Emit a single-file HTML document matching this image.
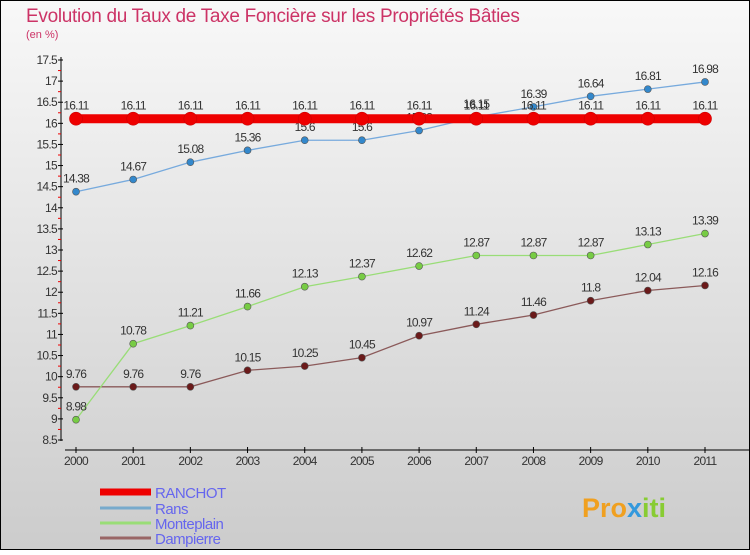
<!DOCTYPE html>
<html><head><meta charset="utf-8"><style>
body{margin:0}
#c{width:750px;height:550px;position:relative;font-family:"Liberation Sans",sans-serif;}
</style></head><body>
<div id="c">
<svg id="s" width="750" height="550" xmlns="http://www.w3.org/2000/svg">
<defs><linearGradient id="bg" x1="0" y1="0" x2="0" y2="1"><stop offset="0" stop-color="#f8f8f8"/><stop offset="1" stop-color="#cccccc"/></linearGradient></defs>
<rect x="0.5" y="0.5" width="749" height="549" fill="url(#bg)" stroke="#000"/>
<text x="26" y="22" font-size="19" fill="#cc3366" letter-spacing="-0.3">Evolution du Taux de Taxe Foncière sur les Propriétés Bâties</text>
<text x="26" y="38" font-size="11" fill="#cc3366">(en %)</text>
<g id="g"></g>
<g>
<text x="582" y="517" font-size="27" font-weight="bold" fill="#f0a020">Pro<tspan fill="#3399dd">x</tspan><tspan fill="#88cc33">iti</tspan></text>
</g>
</svg>
</div>
<script>
const years=["2000","2001","2002","2003","2004","2005","2006","2007","2008","2009","2010","2011"];
const ranchot=[16.11,16.11,16.11,16.11,16.11,16.11,16.11,16.11,16.11,16.11,16.11,16.11];
const rans=[14.38,14.67,15.08,15.36,15.6,15.6,15.83,16.15,16.39,16.64,16.81,16.98];
const monteplain=[8.98,10.78,11.21,11.66,12.13,12.37,12.62,12.87,12.87,12.87,13.13,13.39];
const dampierre=[9.76,9.76,9.76,10.15,10.25,10.45,10.97,11.24,11.46,11.8,12.04,12.16];
const yTicks=[8.5,9,9.5,10,10.5,11,11.5,12,12.5,13,13.5,14,14.5,15,15.5,16,16.5,17,17.5];
const NS="http://www.w3.org/2000/svg";
const g=document.getElementById('g');
const x=i=>76+i*(705-76)/11;
const y=v=>440-(v-8.5)*(380/9);
function mk(t,a){const e=document.createElementNS(NS,t);for(const k in a)e.setAttribute(k,a[k]);g.appendChild(e);return e;}
let e=mk('line',{x1:61,y1:57,x2:61,y2:441,stroke:'#000'});


e=mk('line',{x1:65,y1:450,x2:750,y2:450,stroke:'#000'});


yTicks.forEach((v,i)=>{
 e=mk('line',{x1:58,x2:63,y1:y(v),y2:y(v),stroke:'#000'});
 
 
 if(i<yTicks.length-1){e=mk('line',{x1:58,x2:61,y1:y(v+0.25),y2:y(v+0.25),stroke:'#e00'});
 
 }
 e=mk('text',{x:57,y:y(v)+4,'font-size':12,'text-anchor':'end',fill:'#333','letter-spacing':'-0.7'});
 e.textContent=String(v);
 
 
});
years.forEach((yr,i)=>{
 e=mk('line',{x1:x(i),x2:x(i),y1:447,y2:453,stroke:'#000'});
 
 
 e=mk('text',{x:x(i),y:465,'font-size':12,'text-anchor':'middle',fill:'#333','letter-spacing':'-0.7'});
 e.textContent=yr;
 
 
});
function series(name,vals,col,dot,w,r){
 e=mk('polyline',{points:vals.map((v,i)=>x(i)+','+y(v)).join(' '),fill:'none',stroke:col,'stroke-width':w});
 
 
 vals.forEach((v,i)=>{
  e=mk('circle',{cx:x(i),cy:y(v),r:r,fill:dot,stroke:dot==='#ee0000'?'#cc0000':'#555','stroke-width':0.6});
  
  
  e=mk('text',{x:x(i),y:y(v)-9,'font-size':12,'text-anchor':'middle',fill:'#333','letter-spacing':'-0.8'});
  e.textContent=String(v);
  
  
 });
}
series('dampierre',dampierre,'#8b5a5a','#6b1a1a',1.3,3.5);
series('monteplain',monteplain,'#99dd77','#77cc44',1.3,3.5);
series('rans',rans,'#77aadd','#3388cc',1.3,3.5);
series('ranchot',ranchot,'#ee0000','#ee0000',9,6.5);
const leg=[['RANCHOT','#ee0000',7,492],['Rans','#77aacc',3,508],['Monteplain','#99dd77',3,523],['Dampierre','#996666',3,538]];
leg.forEach(l=>{
 e=mk('line',{x1:100,x2:151,y1:l[3],y2:l[3],stroke:l[1],'stroke-width':l[2]});
 
 
 e=mk('text',{x:155,y:l[3]+6,'font-size':15,fill:'#6666ee','letter-spacing':'-0.5'});
 e.textContent=l[0];
 
 
});
</script>
</body></html>
